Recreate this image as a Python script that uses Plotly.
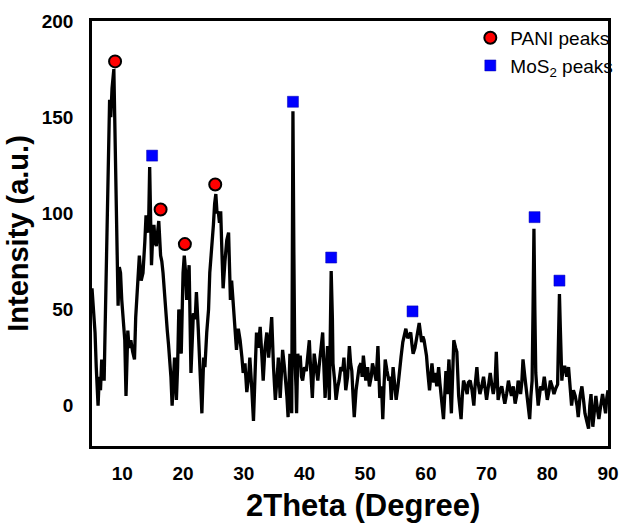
import plotly.graph_objects as go

# ---- XRD pattern ----
two_theta = [
    5.0,5.3,5.5,5.7,6.0,6.2,6.4,6.6,6.8,7.0,7.1,7.3,7.5,7.7,7.9,8.1,8.3,8.6,8.8,9.0,
    9.2,9.3,9.5,9.7,9.9,10.1,10.3,10.4,10.6,10.8,10.9,11.1,11.4,11.7,12.0,12.2,12.5,12.8,13.1,13.4,
    13.7,13.9,14.1,14.3,14.5,14.6,14.8,15.0,15.2,15.4,15.6,15.8,16.0,16.3,16.5,16.7,16.9,17.1,17.4,17.6,
    17.8,18.0,18.2,18.4,18.6,18.8,18.9,19.1,19.3,19.5,19.7,20.0,20.2,20.4,20.6,20.8,21.0,21.3,21.5,21.7,
    22.0,22.2,22.5,22.7,22.9,23.1,23.4,23.6,23.9,24.2,24.4,24.7,25.0,25.2,25.4,25.6,25.8,26.0,26.2,26.4,
    26.6,26.9,27.2,27.5,27.8,28.0,28.3,28.5,28.8,29.1,29.4,29.7,29.9,30.2,30.5,30.8,31.0,31.3,31.6,31.9,
    32.1,32.4,32.7,33.0,33.2,33.5,33.8,34.1,34.3,34.6,34.9,35.2,35.5,35.7,36.0,36.2,36.4,36.7,36.9,37.1,
    37.3,37.6,37.9,38.0,38.1,38.25,38.4,38.6,38.7,38.9,39.1,39.3,39.5,39.7,40.0,40.3,40.5,40.8,41.0,41.3,
    41.6,41.9,42.2,42.4,42.6,42.8,43.0,43.2,43.4,43.6,43.8,44.1,44.3,44.4,44.6,44.7,45.0,45.2,45.5,45.7,
    46.0,46.3,46.5,46.8,47.1,47.4,47.6,47.8,48.0,48.2,48.5,48.7,49.0,49.3,49.5,49.7,49.9,50.1,50.4,50.7,
    51.0,51.2,51.5,51.8,52.1,52.4,52.7,52.9,53.1,53.3,53.6,53.9,54.1,54.3,54.6,54.8,55.1,55.4,55.6,55.9,
    56.2,56.5,56.7,57.0,57.2,57.5,57.7,57.9,58.2,58.4,58.6,58.9,59.1,59.3,59.5,59.7,59.9,60.1,60.3,60.6,
    60.8,61.0,61.3,61.5,61.8,62.1,62.3,62.5,62.9,63.1,63.3,63.5,63.8,64.0,64.2,64.4,64.6,64.9,65.1,65.4,
    65.6,65.8,66.0,66.2,66.5,66.8,67.0,67.3,67.6,67.9,68.1,68.4,68.6,68.9,69.2,69.5,69.8,70.0,70.3,70.6,
    70.9,71.1,71.4,71.6,71.9,72.2,72.5,72.8,73.0,73.3,73.6,73.9,74.1,74.4,74.7,75.0,75.2,75.4,75.6,75.8,
    76.0,76.3,76.6,76.9,77.1,77.3,77.5,77.65,77.8,77.95,78.1,78.3,78.5,78.7,78.9,79.2,79.5,79.8,80.0,80.3,
    80.5,80.8,81.1,81.4,81.7,81.85,82.0,82.15,82.4,82.6,82.9,83.2,83.5,83.8,84.0,84.3,84.6,84.9,85.1,85.4,
    85.7,86.0,86.2,86.5,86.8,87.0,87.2,87.5,87.8,88.0,88.3,88.5,88.8,89.1,89.3,89.6,89.8,90.0,
]
intensity = [
    61,45,38,20,0,15,8,24,18,13,30,60,100,130,159,150,165,175,138,86,
    60,52,72,69,55,48,40,34,5,25,39,30,34,28,24,46,60,78,65,69,
    85,99,92,90,124,110,73,88,94,85,83,90,96,78,75,69,60,48,39,32,
    25,15,0,12,25,10,3,20,50,40,27,69,78,70,55,65,73,17,35,48,
    45,59,40,27,10,-4,25,20,38,50,69,80,94,105,110,100,101,95,101,80,
    61,75,86,90,55,65,53,40,29,40,34,25,17,22,7,15,25,10,-8,20,
    38,30,41,25,13,30,38,25,35,46,20,3,15,25,4,15,29,20,13,5,
    -6,27,-4,60,153,80,26,10,-4,27,20,26,15,13,20,18,25,34,20,4,
    27,20,13,20,26,30,38,20,4,18,31,3,40,70,45,22,12,3,10,13,
    20,18,25,8,15,31,22,18,5,-6,8,13,20,22,15,26,20,13,20,10,
    15,22,18,13,31,4,10,-7,10,24,18,13,15,3,20,12,3,10,17,25,
    33,38,40,35,36,38,32,27,30,34,38,43,38,33,36,34,30,26,18,8,
    15,22,12,17,10,20,12,4,-7,5,18,6,24,10,-4,15,34,30,28,5,
    0,-7,5,13,10,6,12,13,8,0,10,20,12,6,10,15,8,3,10,17,
    10,6,12,28,3,8,10,5,1,6,13,8,5,10,1,6,13,10,6,12,
    24,15,6,0,-7,5,13,50,92,50,17,8,0,5,10,8,15,8,3,8,
    13,10,6,9,11,35,58,40,13,20,20,15,20,8,0,8,5,0,-6,5,
    10,2,-4,-8,-12,0,6,-11,-2,5,-3,-7,0,6,2,-4,4,8,
]

# ---- peak markers ----
pani_x = [8.8, 16.3, 20.3, 25.3]
pani_y = [179, 102, 84, 115]
mos2_x = [14.9, 38.1, 44.4, 57.8, 77.9, 82.0]
mos2_y = [130, 158, 77, 49, 98, 65]

x_ticks = [10, 20, 30, 40, 50, 60, 70, 80, 90]
y_ticks = [0, 50, 100, 150, 200]

FONT = "Liberation Sans, Arial, sans-serif"

fig = go.Figure()
fig.add_trace(go.Scatter(
    x=two_theta, y=intensity, mode="lines",
    line=dict(color="black", width=3.3), showlegend=False, hoverinfo="skip",
))
fig.add_trace(go.Scatter(
    x=pani_x, y=pani_y, mode="markers", name="PANI peaks",
    marker=dict(symbol="circle", size=12, color="#ff0000",
                line=dict(color="black", width=2)),
))
fig.add_trace(go.Scatter(
    x=mos2_x, y=mos2_y, mode="markers", name="MoS<sub>2</sub> peaks",
    marker=dict(symbol="square", size=11, color="#0000ff",
                line=dict(color="#0000aa", width=0.5)),
))

fig.add_annotation(
    text="2Theta (Degree)", xref="paper", yref="paper",
    x=0.526, y=-0.139, xanchor="center", yanchor="middle", showarrow=False,
    font=dict(family=FONT, size=31, weight="bold", color="black"),
)

fig.update_layout(
    width=630, height=524,
    margin=dict(l=92, r=13, t=21, b=78),
    paper_bgcolor="white", plot_bgcolor="white",
    font=dict(family=FONT, color="black"),
    legend=dict(x=1.02, y=1.005, xanchor="right", yanchor="top",
                bgcolor="rgba(0,0,0,0)", font=dict(family=FONT, size=19),
                itemwidth=30, tracegroupgap=0),
    xaxis=dict(
        range=[5, 90], tickvals=x_ticks, showgrid=False, zeroline=False,
        showline=True, linecolor="black", linewidth=2.5, mirror=True,
        ticks="", ticklabelstandoff=8,
        tickfont=dict(family=FONT, size=19, weight="bold"),
    ),
    yaxis=dict(
        range=[-21, 200], tickvals=y_ticks, showgrid=False, zeroline=False,
        showline=True, linecolor="black", linewidth=2.5, mirror=True,
        ticks="", ticklabelstandoff=12,
        tickfont=dict(family=FONT, size=19, weight="bold"),
        title=dict(text="Intensity (a.u.)", standoff=5,
                   font=dict(family=FONT, size=29, weight="bold")),
    ),
)

fig.write_html("out.html")
